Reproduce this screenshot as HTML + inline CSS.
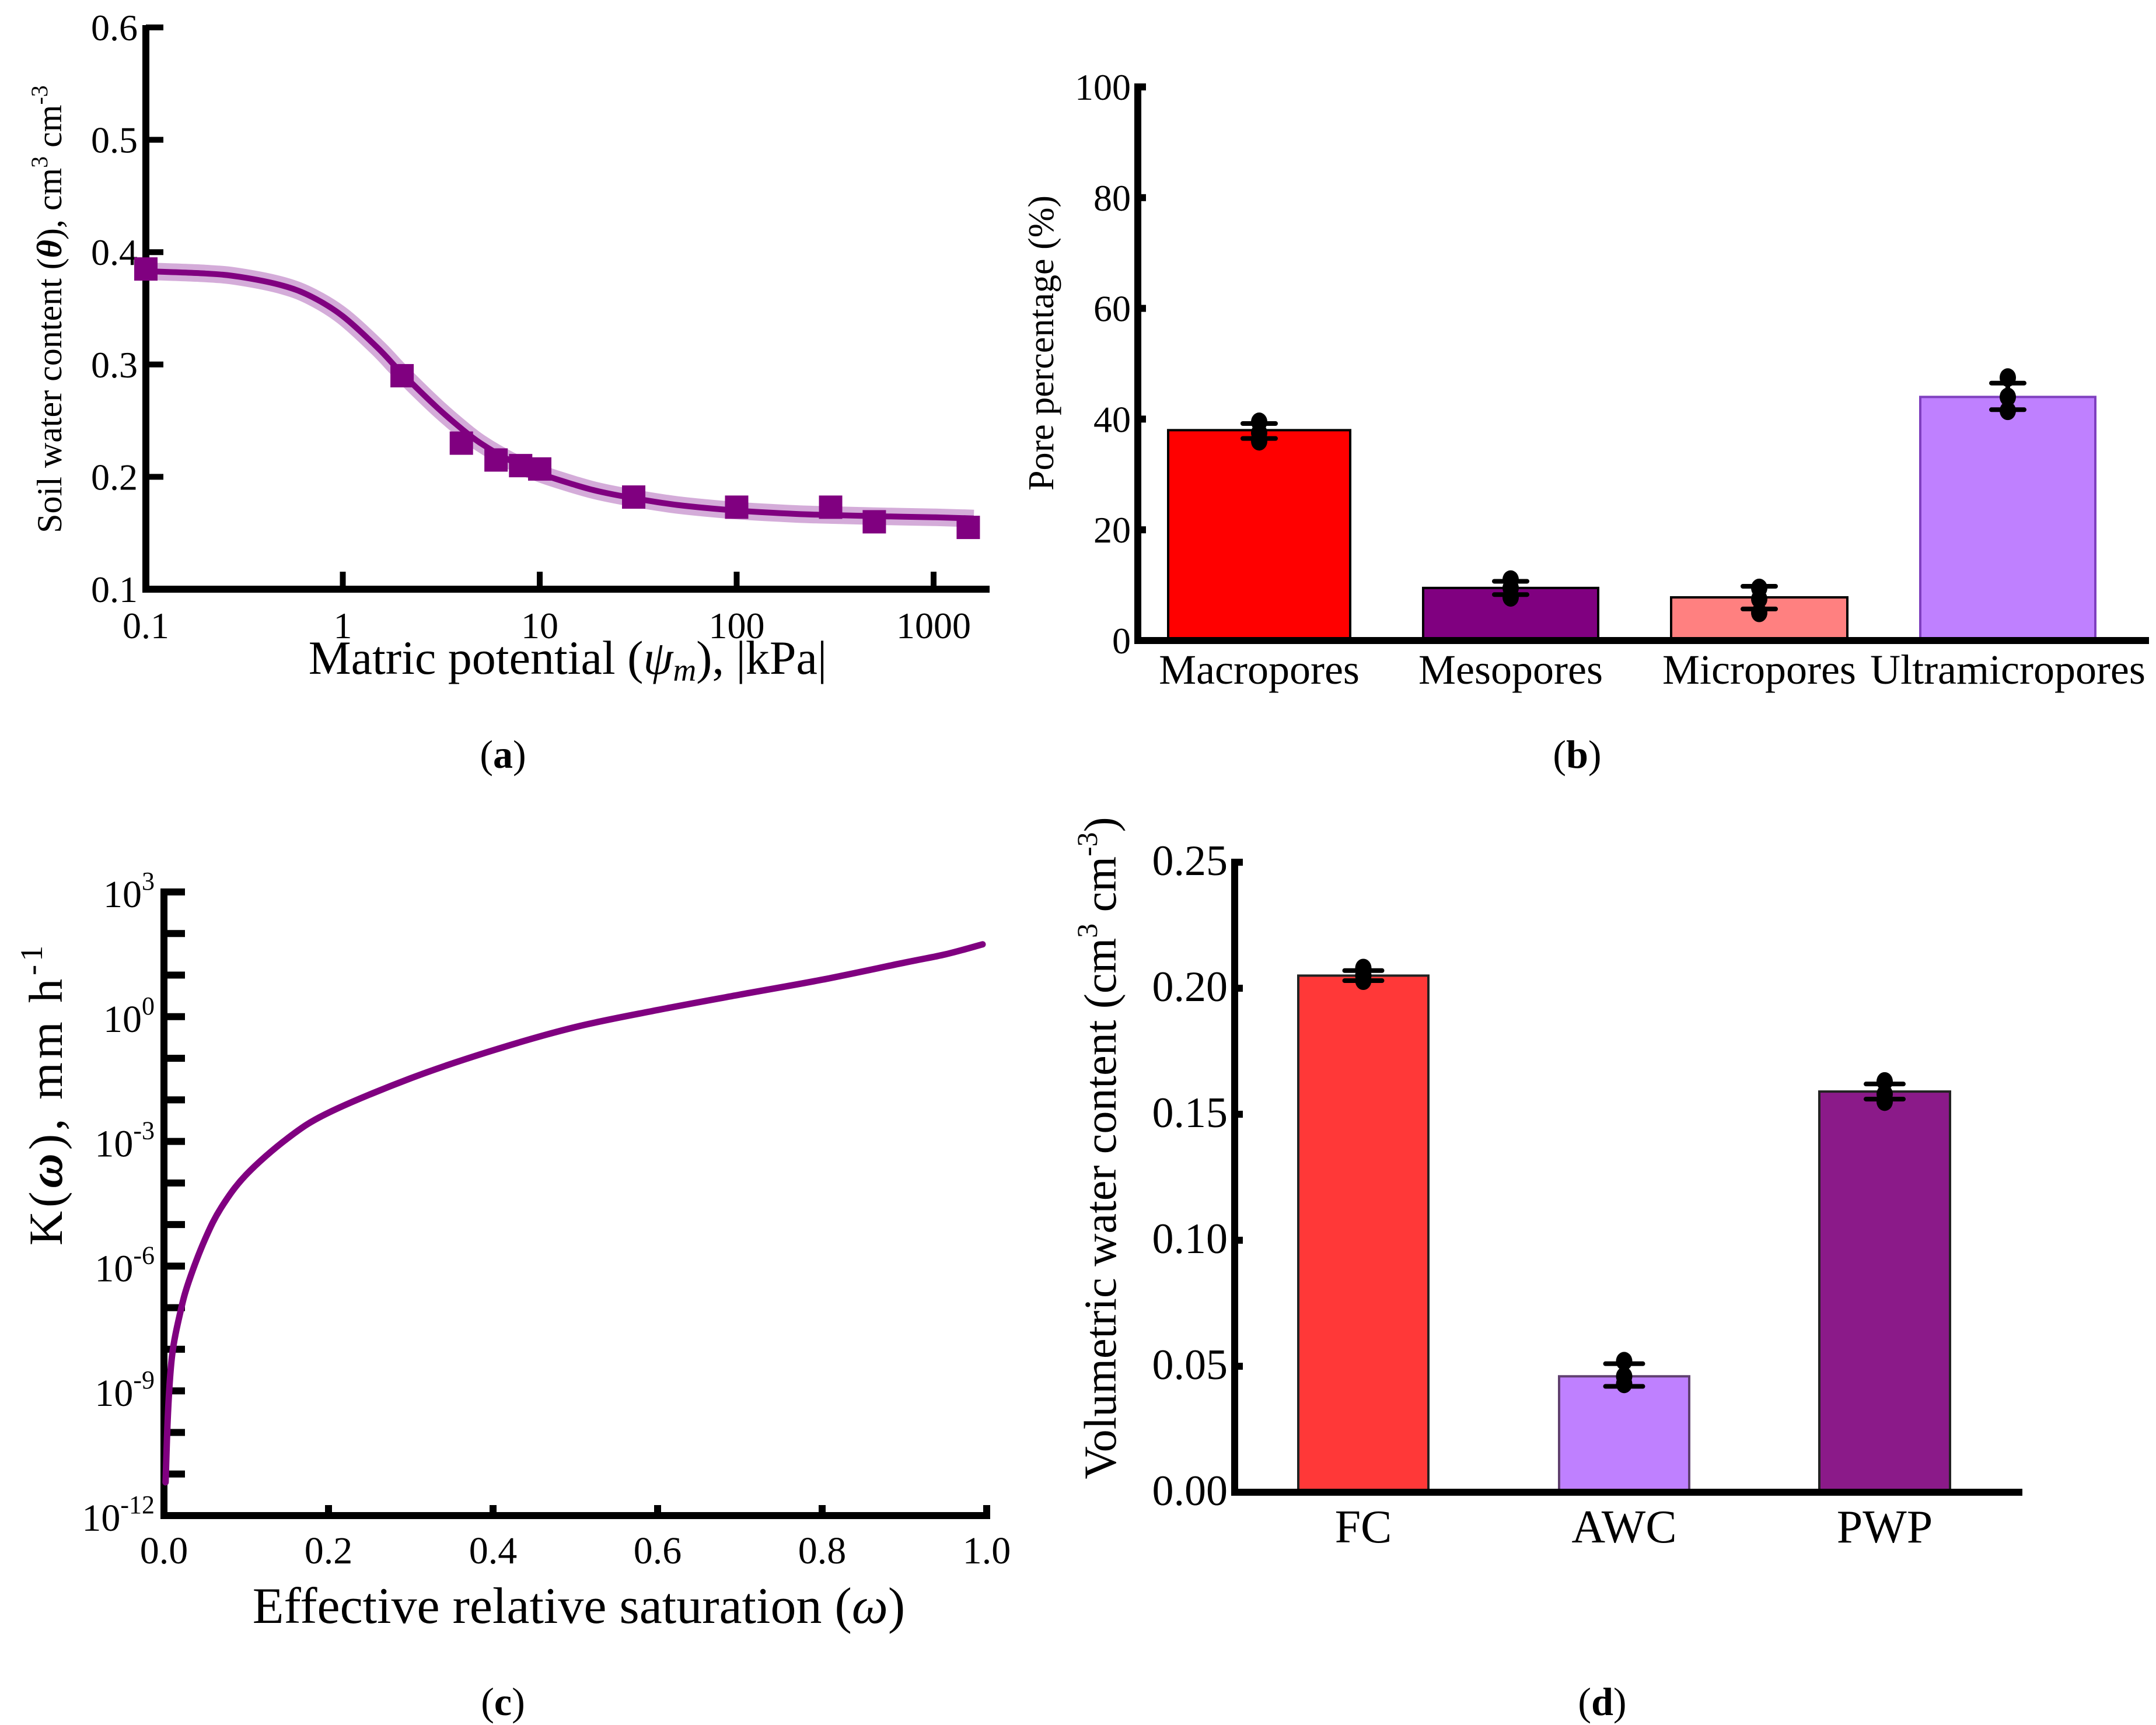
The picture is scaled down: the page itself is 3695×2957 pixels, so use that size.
<!DOCTYPE html>
<html><head><meta charset="utf-8">
<style>
html,body{margin:0;padding:0;background:#fff;}
svg{display:block;font-family:"Liberation Serif",serif;}
</style></head>
<body>
<svg id="fig" xmlns="http://www.w3.org/2000/svg" width="3695" height="2957" viewBox="0 0 3695 2957">
<rect width="3695" height="2957" fill="#fff"/>
<g id="pa"></g>
<g id="pb"></g>
<g id="pc"></g>
<g id="pd"></g>

<text x="862" y="1316" font-size="68" text-anchor="middle">(<tspan font-weight="bold">a</tspan>)</text>
<text x="2703" y="1316" font-size="68" text-anchor="middle">(<tspan font-weight="bold">b</tspan>)</text>
<text x="862" y="2940" font-size="68" text-anchor="middle">(<tspan font-weight="bold">c</tspan>)</text>
<text x="2746" y="2940" font-size="68" text-anchor="middle">(<tspan font-weight="bold">d</tspan>)</text>

<text x="973" y="1155" font-size="82" text-anchor="middle">Matric potential (<tspan font-style="italic">ψ<tspan font-size="55" dy="12">m</tspan></tspan><tspan dy="-12">), |kPa|</tspan></text>
<text transform="translate(105,530) rotate(-90)" font-size="60" text-anchor="middle">Soil water content (<tspan font-style="italic" font-weight="bold">θ</tspan>), cm<tspan font-size="40" dy="-24">3</tspan><tspan dy="24"> cm</tspan><tspan font-size="40" dy="-24">-3</tspan></text>
<text transform="translate(1805,588) rotate(-90)" font-size="62" text-anchor="middle">Pore percentage (%)</text>
<text x="992" y="2782" font-size="88" text-anchor="middle">Effective relative saturation (<tspan font-style="italic">ω</tspan>)</text>
<text transform="translate(106,1875) rotate(-90)" font-size="82" letter-spacing="6" text-anchor="middle">K(<tspan font-style="italic" font-weight="bold">ω</tspan>), mm h<tspan font-size="54" dy="-34">-1</tspan></text>
<text transform="translate(1912,1968) rotate(-90)" font-size="78" text-anchor="middle">Volumetric water content (cm<tspan font-size="50" dy="-32">3</tspan><tspan dy="32"> cm</tspan><tspan font-size="50" dy="-32">-3</tspan><tspan dy="32">)</tspan></text>
</svg>
<script>
// ---- panel a data ----
const aPointsX=[0.1,2,4,6,8,10,30,100,300,500,1500];
const aPointsY=[0.385,0.29,0.23,0.215,0.21,0.207,0.182,0.173,0.173,0.16,0.155];
const aCurveX=[0.1,0.2,0.3,0.5,0.7,1,1.5,2,3,4,5,7,10,15,20,30,50,100,200,300,500,1000,1600];
const aCurveY=[0.383,0.381,0.378,0.37,0.36,0.343,0.315,0.292,0.262,0.243,0.23,0.215,0.203,0.193,0.187,0.181,0.175,0.17,0.167,0.166,0.165,0.164,0.163];
const aYTicks=[0.1,0.2,0.3,0.4,0.5,0.6];
const aYTickLabels=["0.1","0.2","0.3","0.4","0.5","0.6"];
const aXTicks=[0.1,1,10,100,1000];
const aXTickLabels=["0.1","1","10","100","1000"];
// ---- panel b data ----
const bCats=["Macropores","Mesopores","Micropores","Ultramicropores"];
const bVals=[38,9.5,7.8,44];
const bErrLo=[36.5,8.3,5.7,41.7];
const bErrHi=[39.2,10.7,9.8,46.5];
const bPts=[[36,37.5,39.5],[7.8,9.5,11],[5,7.5,9.5],[41.5,44,47.5]];
const bYTicks=[0,20,40,60,80,100];
const bYTickLabels=["0","20","40","60","80","100"];
// ---- panel c data ----
const cW=[0.002,0.005,0.01,0.02,0.03,0.05,0.07,0.1,0.15,0.2,0.3,0.4,0.5,0.6,0.7,0.8,0.9,0.95,0.995];
const cLogK=[-11.2,-9.47,-8.13,-7.1,-6.38,-5.35,-4.58,-3.8,-2.93,-2.31,-1.48,-0.81,-0.25,0.16,0.53,0.89,1.3,1.5,1.74];
const cXTicks=[0,0.2,0.4,0.6,0.8,1.0];
const cXTickLabels=["0.0","0.2","0.4","0.6","0.8","1.0"];
const cYMajor=[3,0,-3,-6,-9,-12];
const cYMajorExp=["3","0","-3","-6","-9","-12"];
// ---- panel d data ----
const dCats=["FC","AWC","PWP"];
const dVals=[0.205,0.046,0.159];
const dErrLo=[0.203,0.042,0.156];
const dErrHi=[0.207,0.051,0.162];
const dPts=[[0.203,0.205,0.208],[0.043,0.046,0.052],[0.155,0.158,0.163]];
const dYTicks=[0,0.05,0.1,0.15,0.2,0.25];
const dYTickLabels=["0.00","0.05","0.10","0.15","0.20","0.25"];

const NS="http://www.w3.org/2000/svg";
function mk(parent,tag,attrs,text){const e=document.createElementNS(NS,tag);for(const k in attrs)e.setAttribute(k,attrs[k]);if(text!==undefined)e.textContent=text;parent.appendChild(e);return e;}
function smooth(pts){let d='M'+pts[0][0].toFixed(1)+' '+pts[0][1].toFixed(1);
 for(let i=0;i<pts.length-1;i++){const p0=pts[i-1]||pts[i],p1=pts[i],p2=pts[i+1],p3=pts[i+2]||p2;
  const c1=[p1[0]+(p2[0]-p0[0])/6,p1[1]+(p2[1]-p0[1])/6],c2=[p2[0]-(p3[0]-p1[0])/6,p2[1]-(p3[1]-p1[1])/6];
  d+=' C'+c1[0].toFixed(1)+' '+c1[1].toFixed(1)+' '+c2[0].toFixed(1)+' '+c2[1].toFixed(1)+' '+p2[0].toFixed(1)+' '+p2[1].toFixed(1);}
 return d;}

// ===== Panel a =====
(function(){
const g=document.getElementById('pa');
const x0=250,x1=1696,yTop=47,yBot=1010;
const ax=v=>x0+(Math.log10(v)-Math.log10(0.1))*337.5;
const ay=v=>yBot-(v-0.1)/(0.5)*(yBot-yTop);
let e;
e=mk(g,'line',{x1:x0,y1:yTop-4,x2:x0,y2:yBot+6,stroke:'#000','stroke-width':12});

e=mk(g,'line',{x1:x0-6,y1:yBot,x2:x1,y2:yBot,stroke:'#000','stroke-width':12});

aYTicks.forEach((t,i)=>{const y=ay(t);
 e=mk(g,'line',{x1:x0,y1:y,x2:x0+30,y2:y,stroke:'#000','stroke-width':10});
 
 e=mk(g,'text',{x:x0-14,y:y+22,'font-size':64,'text-anchor':'end'},aYTickLabels[i]);
 });
aXTicks.forEach((t,i)=>{const x=ax(t);
 e=mk(g,'line',{x1:x,y1:yBot,x2:x,y2:yBot-30,stroke:'#000','stroke-width':10});
 
 e=mk(g,'text',{x:x,y:yBot+84,'font-size':64,'text-anchor':'middle'},aXTickLabels[i]);
 });
const d=smooth(aCurveX.map((v,i)=>[ax(v),ay(aCurveY[i])]));
e=mk(g,'path',{d:d,fill:'none',stroke:'#b874c0','stroke-width':30,'stroke-opacity':0.6,'stroke-linejoin':'round'});

e=mk(g,'path',{d:d,fill:'none',stroke:'#800080','stroke-width':10,'stroke-linejoin':'round'});

aPointsX.forEach((v,i)=>{const s=40;
 e=mk(g,'rect',{x:ax(v)-s/2,y:ay(aPointsY[i])-s/2,width:s,height:s,fill:'#800080'});
 });
})();

// ===== generic bar panel =====
function barPanel(gid,pref,x0,x1,yTop,yBot,ymax,cats,vals,lo,hi,pts,ticks,tlabels,bars,colors,strokes,capW,labY,fs,cfs){
const g=document.getElementById(gid);
const ay=v=>yBot-v/ymax*(yBot-yTop);
let e;
e=mk(g,'line',{x1:x0,y1:yTop-6,x2:x0,y2:yBot+6,stroke:'#000','stroke-width':12});

ticks.forEach((t,i)=>{const y=ay(t);
 e=mk(g,'line',{x1:x0,y1:y,x2:x0+14,y2:y,stroke:'#000','stroke-width':12});
 
 e=mk(g,'text',{x:x0-12,y:y+22,'font-size':fs,'text-anchor':'end'},tlabels[i]);
 });
cats.forEach((c,i)=>{const [bx0,bx1]=bars[i];const cx=(bx0+bx1)/2;
 e=mk(g,'rect',{x:bx0,y:ay(vals[i]),width:bx1-bx0,height:yBot-ay(vals[i]),fill:colors[i],stroke:strokes[i],'stroke-width':4});
 
 e=mk(g,'line',{x1:cx,y1:ay(lo[i]),x2:cx,y2:ay(hi[i]),stroke:'#000','stroke-width':8});
 
 [lo[i],hi[i]].forEach(v=>{e=mk(g,'line',{x1:cx-capW,y1:ay(v),x2:cx+capW,y2:ay(v),stroke:'#000','stroke-width':8,'stroke-linecap':'round'});
  });
 pts[i].forEach(v=>{e=mk(g,'ellipse',{cx:cx,cy:ay(v),rx:14,ry:16,fill:'#000'});
  });
 e=mk(g,'text',{x:cx,y:labY,'font-size':cfs,'text-anchor':'middle'},c);
 });
e=mk(g,'line',{x1:x0-6,y1:yBot,x2:x1,y2:yBot,stroke:'#000','stroke-width':12});

}
barPanel('pb','panel-b',1950,3683,149,1098,100,bCats,bVals,bErrLo,bErrHi,bPts,bYTicks,bYTickLabels,
 [[2002,2314],[2439,2739],[2864,3166],[3291,3591]],['#ff0000','#800080','#ff8080','#bf80ff'],['#000','#000','#000','#7f3fbf'],28,1172,64,72);
barPanel('pd','panel-d',2116,3466,1478,2558,0.25,dCats,dVals,dErrLo,dErrHi,dPts,dYTicks,dYTickLabels,
 [[2225,2448],[2672,2895],[3118,3342]],['#ff3838','#bf80ff','#8b1a89'],['#222','#604070','#222'],32,2644,74,80);

// ===== Panel c =====
(function(){
const g=document.getElementById('pc');
const x0=281,x1=1691,yTop=1529,yBot=2598;
const ax=v=>x0+v*(x1-x0);
const ay=v=>yBot-(v+12)/15*(yBot-yTop);
let e;
e=mk(g,'line',{x1:x0,y1:yTop-6,x2:x0,y2:yBot+6,stroke:'#000','stroke-width':12});

e=mk(g,'line',{x1:x0-6,y1:yBot,x2:x1+6,y2:yBot,stroke:'#000','stroke-width':12});

for(let p=-11;p<=3;p++){const y=ay(p);
 e=mk(g,'line',{x1:x0,y1:y,x2:x0+36,y2:y,stroke:'#000','stroke-width':12});
 }
cYMajor.forEach((p,i)=>{const y=ay(p);
 e=mk(g,'text',{x:x0-16,y:y+26,'font-size':66,'text-anchor':'end'});
 
 mk(e,'tspan',{},'10');mk(e,'tspan',{'font-size':44,dy:-30},cYMajorExp[i]);});
cXTicks.forEach((t,i)=>{const x=ax(t);
 if(i>0){e=mk(g,'line',{x1:x,y1:yBot,x2:x,y2:yBot-18,stroke:'#000','stroke-width':12});
 }
 e=mk(g,'text',{x:x,y:yBot+82,'font-size':66,'text-anchor':'middle'},cXTickLabels[i]);
 });
const d=smooth(cW.map((v,i)=>[ax(v),ay(cLogK[i])]));
e=mk(g,'path',{d:d,fill:'none',stroke:'#800080','stroke-width':11,'stroke-linecap':'round','stroke-linejoin':'round'});

})();
</script>
</body></html>
